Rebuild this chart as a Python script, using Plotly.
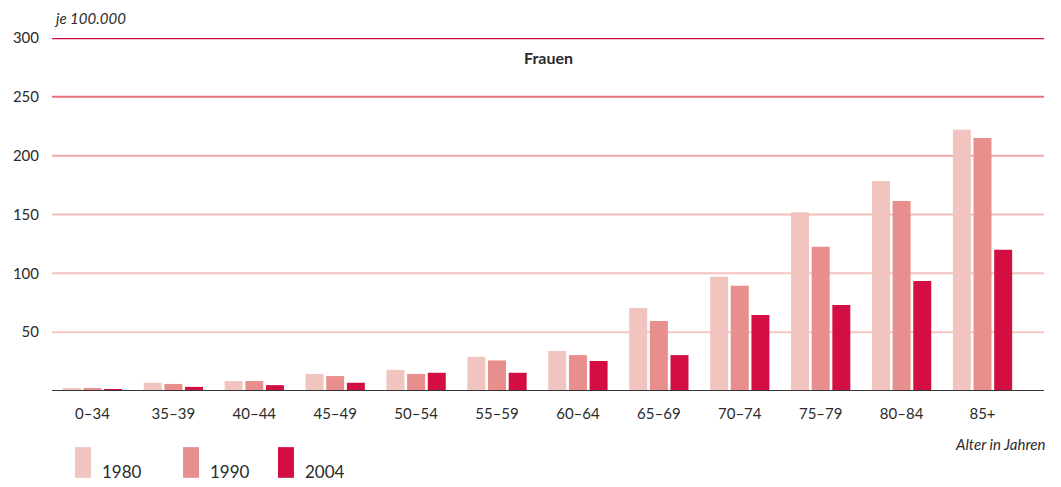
import plotly.graph_objects as go

categories = ["0–34", "35–39", "40–44", "45–49", "50–54", "55–59",
              "60–64", "65–69", "70–74", "75–79", "80–84", "85+"]
years = ["1980", "1990", "2004"]
v1980 = [2.5, 7, 8.5, 14.5, 18, 29, 34, 70.5, 97, 152, 178.5, 222]
v1990 = [2.5, 6, 8.5, 12.7, 14.5, 26, 30.5, 59.5, 89.5, 122.5, 161.5, 215]
v2004 = [1.5, 3.5, 5, 7, 15.5, 15.5, 25.5, 30.5, 64.5, 73, 93.5, 120]
series = [v1980, v1990, v2004]
colors = ["#F2C4BF", "#E88E8C", "#D20E42"]

y_ticks = [50, 100, 150, 200, 250, 300]
grid_colors = ["#F3C6C2", "#F3C3C0", "#F1BDBB", "#EEA9A8", "#E47078", "#D20E42"]
grid_widths = [2, 2, 2, 2, 2, 2.5]

font_family = "Lato, 'Open Sans', sans-serif"
text_color = "#2b2b2b"

fig = go.Figure()
for name, vals, col in zip(years, series, colors):
    fig.add_trace(go.Bar(x=list(range(len(categories))), y=vals, name=name,
                         marker=dict(color=col, line=dict(width=0)),
                         showlegend=False))

shapes = []
for yv, gc, gw in zip(y_ticks, grid_colors, grid_widths):
    shapes.append(dict(type="line", xref="paper", yref="y", x0=0, x1=1, y0=yv, y1=yv,
                       line=dict(color=gc, width=gw), layer="below"))
shapes.append(dict(type="line", xref="paper", yref="y", x0=0, x1=1, y0=0, y1=0,
                   line=dict(color="#333333", width=2), layer="above"))

annotations = []
# manual legend
leg_x = [0.0232, 0.1321, 0.2278]
for yr, col, lx in zip(years, colors, leg_x):
    shapes.append(dict(type="rect", xref="paper", yref="paper",
                       x0=lx, x1=lx + 0.0161, y0=-0.246, y1=-0.159,
                       fillcolor=col, line=dict(width=0)))
    annotations.append(dict(xref="paper", yref="paper", x=lx + 0.0252, y=-0.228,
                            text=yr, showarrow=False, xanchor="left", yanchor="middle",
                            font=dict(size=17, color=text_color, family=font_family)))

annotations += [
    dict(xref="paper", yref="paper", x=0.5, y=0.945, text="<b>Frauen</b>",
         showarrow=False, xanchor="center", yanchor="middle",
         font=dict(size=16, color=text_color, family=font_family)),
    dict(xref="paper", yref="paper", x=0.0, y=1.058, text="<i>je 100.000</i>",
         showarrow=False, xanchor="left", yanchor="middle",
         font=dict(size=15, color=text_color, family=font_family)),
    dict(xref="paper", yref="paper", x=1.003, y=-0.15, text="<i>Alter in Jahren</i>",
         showarrow=False, xanchor="right", yanchor="middle",
         font=dict(size=15, color=text_color, family=font_family)),
]

# the page body adds an 8px margin, so the figure is sized/offset to compensate
fig.update_layout(
    width=1053, height=479,
    margin=dict(l=44, r=17, t=30, b=96, autoexpand=False),
    paper_bgcolor="white", plot_bgcolor="white",
    barmode="group", bargap=0.234, bargroupgap=0.13,
    shapes=shapes, annotations=annotations,
    font=dict(family=font_family, color=text_color),
    xaxis=dict(range=[-0.5, 11.76], tickmode="array", automargin=False,
               tickvals=list(range(len(categories))), ticktext=categories,
               showgrid=False, zeroline=False, showline=False, ticks="",
               ticklabelstandoff=12, tickfont=dict(size=15, color=text_color)),
    yaxis=dict(range=[0, 300], tickmode="array", tickvals=y_ticks, automargin=False,
               ticktext=[str(t) for t in y_ticks],
               showgrid=False, zeroline=False, showline=False, ticks="",
               ticklabelstandoff=12, tickfont=dict(size=15, color=text_color)),
)

fig.write_html("out.html")
